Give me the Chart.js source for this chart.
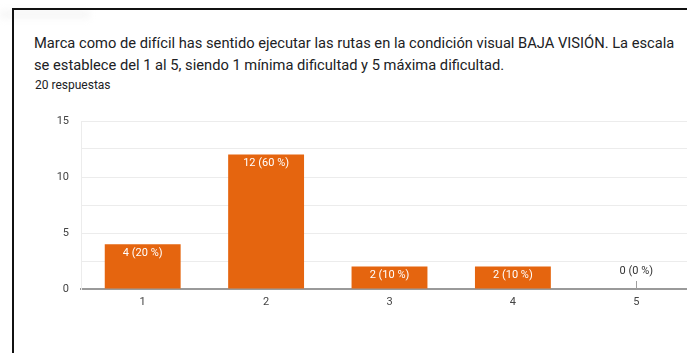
<!DOCTYPE html>
<html>
<head>
<meta charset="utf-8">
<script src="https://cdn.jsdelivr.net/npm/chart.js@4"></script>
<style>
  html, body { margin: 0; padding: 0; width: 687px; height: 353px; overflow: hidden; background: #fff; }
  body { position: relative; font-family: Roboto, "Noto Sans", Arial, sans-serif; }
  .smudge { position: absolute; left: 0; top: 10px; width: 90px; height: 9px; background: #efefef; filter: blur(3px); opacity: .5; }
  .card { position: absolute; left: 12px; top: 8px; width: 700px; height: 360px; border-left: 2px solid #111; border-top: 2px solid #111; box-sizing: border-box; background: transparent; }
  .title { position: absolute; left: 34px; top: 32px; width: 660px; font-size: 14.7px; line-height: 22px; color: #202124; white-space: nowrap; }
  .count { position: absolute; left: 35px; top: 78px; font-size: 12px; line-height: 14px; color: #202124; }
  .chart { position: absolute; left: 0; top: 100px; width: 700px; height: 214px; }
</style>
</head>
<body>
<div class="smudge"></div>
<div class="card"></div>
<div class="title">Marca como de difícil has sentido ejecutar las rutas en la condición visual BAJA VISIÓN. La escala<br>se establece del 1 al 5, siendo 1 mínima dificultad y 5 máxima dificultad.</div>
<div class="count">20 respuestas</div>
<div class="chart"><canvas id="c"></canvas></div>
<script>
const categories = ['1', '2', '3', '4', '5'];
const counts = [4, 12, 2, 2, 0];
const totalResponses = 20;
const yTicks = [0, 5, 10, 15];

const barColor = '#e5650f';

// value labels: white inside the bar, or grey above a stem when the bar is empty
const valueLabels = {
  id: 'valueLabels',
  afterDatasetsDraw(chart) {
    const ctx = chart.ctx;
    const meta = chart.getDatasetMeta(0);
    ctx.save();
    ctx.font = '11px Roboto, Arial, sans-serif';
    ctx.textAlign = 'center';
    ctx.textBaseline = 'middle';
    meta.data.forEach((bar, i) => {
      const v = counts[i];
      const pct = Math.round(v / totalResponses * 100);
      const text = v + ' (' + pct + ' %)';
      if (v > 0) {
        ctx.fillStyle = '#ffffff';
        ctx.fillText(text, bar.x, bar.y + 9);
      } else {
        ctx.strokeStyle = '#9e9e9e';
        ctx.lineWidth = 1;
        ctx.beginPath();
        ctx.moveTo(Math.round(bar.x) + 0.5, bar.base - 8);
        ctx.lineTo(Math.round(bar.x) + 0.5, bar.base);
        ctx.stroke();
        ctx.fillStyle = '#333333';
        ctx.fillText(text, bar.x, bar.base - 18);
      }
    });
    ctx.restore();
  }
};

new Chart(document.getElementById('c'), {
  type: 'bar',
  data: {
    labels: categories,
    datasets: [{
      data: counts,
      backgroundColor: barColor,
      borderWidth: 0,
      barPercentage: 1,
      categoryPercentage: 0.615
    }]
  },
  options: {
    responsive: true,
    maintainAspectRatio: false,
    animation: false,
    events: [],
    layout: { padding: { top: 21, right: 2, left: 0, bottom: 0 } },
    plugins: { legend: { display: false }, tooltip: { enabled: false } },
    scales: {
      x: {
        grid: { display: false, drawTicks: false },
        border: { display: true, color: '#9a9a9a', width: 2 },
        ticks: { color: '#444', font: { family: 'Roboto', size: 11 }, padding: 7 },
        afterFit(s) { s.height = 25; }
      },
      y: {
        min: 0,
        max: 15,
        afterBuildTicks(s) {
          s.ticks = [0, 2.5, 5, 7.5, 10, 12.5, 15].map(v => ({ value: v }));
        },
        grid: { color: '#ececec', lineWidth: 1, drawTicks: false },
        border: { display: true, color: '#ececec', width: 1 },
        ticks: {
          color: '#444',
          font: { family: 'Roboto', size: 11 },
          padding: 12,
          callback: v => yTicks.includes(v) ? String(v) : ''
        },
        afterFit(s) { s.width = 81; }
      }
    }
  },
  plugins: [valueLabels]
});
</script>
</body>
</html>
